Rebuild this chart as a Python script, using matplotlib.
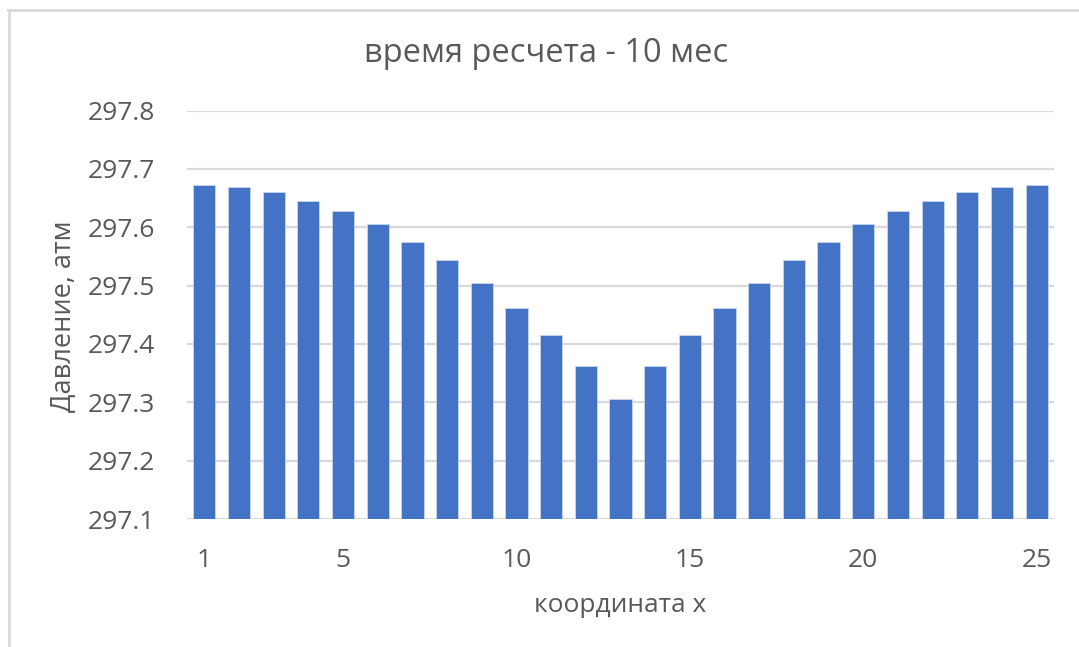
import matplotlib.pyplot as plt
import numpy as np
from matplotlib.lines import Line2D

plt.rcParams['font.family'] = ['Open Sans', 'DejaVu Sans']

# давление по координате x после 10 мес
x = list(range(1, 26))
p = [297.673, 297.669, 297.660, 297.645, 297.628, 297.605, 297.575, 297.543,
     297.504, 297.462, 297.415, 297.363, 297.306, 297.363, 297.415, 297.462,
     297.504, 297.543, 297.575, 297.605, 297.628, 297.645, 297.660, 297.669,
     297.673]
xticks = [1, 5, 10, 15, 20, 25]

fig = plt.figure(figsize=(10.79, 6.47), dpi=100)
ax = fig.add_axes([187/1079, 1 - 519/647, (1054 - 187)/1079, (519 - 110.5)/647])

ax.bar(x, np.array(p) - 297.1, bottom=297.1, width=0.64, color='#4472C4',
       edgecolor='#C9D6EE', linewidth=0.6, zorder=3)

ax.set_xlim(0.5, 25.5)
ax.set_ylim(297.1, 297.8)
ax.set_yticks(np.arange(297.1, 297.81, 0.1))
ax.set_yticklabels(['%.1f' % v for v in np.arange(297.1, 297.81, 0.1)])
ax.set_xticks(xticks)
ax.grid(axis='y', color='#D9D9D9', linewidth=1.6, zorder=0)
for s in ax.spines.values():
    s.set_visible(False)
ax.tick_params(length=0, labelsize=19, colors='#595959', pad=0)
ax.tick_params(axis='y', pad=23)
ax.tick_params(axis='x', pad=21)

fig.text(546/1079, 1 - 54/647, 'время ресчета - 10 мес', ha='center', va='center',
         fontsize=23.5, color='#595959')
fig.text(64/1079, 1 - 316/647, 'Давление, атм', rotation=90, ha='center',
         va='center', fontsize=19.5, color='#595959')
fig.text(620/1079, 1 - 605/647, 'координата x', ha='center', va='center',
         fontsize=19, color='#595959')

# рамка диаграммы
fig.add_artist(Line2D([8/1079, 1], [1 - 10/647, 1 - 10/647], color='#D9D9D9', linewidth=2))
fig.add_artist(Line2D([9/1079, 9/1079], [0, 1 - 10/647], color='#D9D9D9', linewidth=2))

fig.savefig('out.png', dpi=100)
